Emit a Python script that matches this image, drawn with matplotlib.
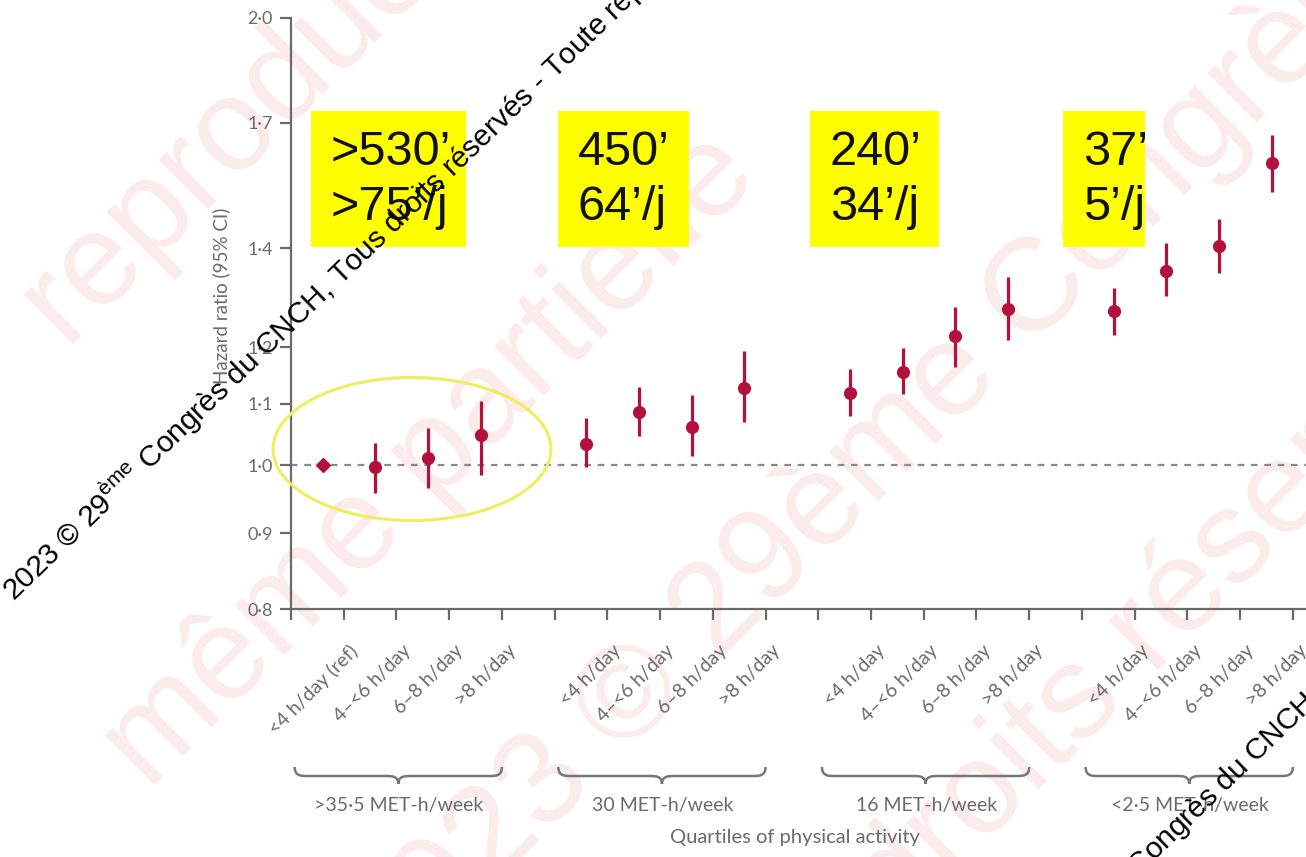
import numpy as np
import matplotlib
matplotlib.use("Agg")
import matplotlib.pyplot as plt
from matplotlib.path import Path
from matplotlib.patches import PathPatch, Rectangle, Ellipse
from matplotlib.ticker import FixedLocator, NullLocator
import matplotlib.transforms as mtransforms

# ---------------- data ----------------
groups = [">35·5 MET-h/week", "30 MET-h/week", "16 MET-h/week", "<2·5 MET-h/week"]
sitting_labels = [
    ["<4 h/day (ref)", "4–<6 h/day", "6–8 h/day", ">8 h/day"],
    ["<4 h/day", "4–<6 h/day", "6–8 h/day", ">8 h/day"],
    ["<4 h/day", "4–<6 h/day", "6–8 h/day", ">8 h/day"],
    ["<4 h/day", "4–<6 h/day", "6–8 h/day", ">8 h/day"],
]
hr = [
    [1.000, 0.997, 1.011, 1.048],
    [1.033, 1.086, 1.061, 1.127],
    [1.119, 1.155, 1.221, 1.274],
    [1.270, 1.351, 1.404, 1.598],
]
ci_low = [
    [1.000, 0.958, 0.965, 0.985],
    [0.997, 1.046, 1.014, 1.069],
    [1.079, 1.116, 1.165, 1.214],
    [1.223, 1.300, 1.347, 1.526],
]
ci_high = [
    [1.000, 1.035, 1.059, 1.105],
    [1.076, 1.129, 1.115, 1.194],
    [1.161, 1.199, 1.278, 1.339],
    [1.316, 1.411, 1.464, 1.668],
]
ytick_values = [0.8, 0.9, 1.0, 1.1, 1.2, 1.4, 1.7, 2.0]
ytick_labels = ["0·8", "0·9", "1·0", "1·1", "1·2", "1·4", "1·7", "2·0"]
box_texts = [(">530’", ">75’/j"), ("450’", "64’/j"), ("240’", "34’/j"), ("37’", "5’/j")]
ylabel = "Hazard ratio (95% CI)"
xlabel = "Quartiles of physical activity"
watermark = "2023 © 29$^{\\mathregular{ème}}$ Congrès du CNCH, Tous droits réservés - Toute reproduction même partielle interdite"

# ---------------- style ----------------
RED = "#b3103d"
GREY = "#6a6a6a"
LFONT = ["Lato", "DejaVu Sans"]
BFONT = ["Liberation Sans", "DejaVu Sans"]

W, H = 1306, 857
fig = plt.figure(figsize=(W / 100, H / 100), dpi=100)
fig.patch.set_facecolor("white")

# faint pink background watermark
pink = "#fbebeb"
for txt, (px, py) in [("reproduction", (300, 60)),
                      ("même partielle", (430, 460)),
                      ("2023 © 29ème Congrès", (860, 470)),
                      ("droits réservés", (1180, 600))]:
    fig.text(px / W, 1 - py / H, txt, fontsize=95, color=pink, rotation=45,
             ha="center", va="center", rotation_mode="anchor",
             family=["Liberation Sans", "DejaVu Sans"], zorder=-5)

ax = fig.add_axes([291 / W, 1 - 609 / H, (W - 291) / W, (609 - 18) / H])
ax.patch.set_alpha(0)
ax.set_yscale("log")
ax.set_ylim(0.8, 2.0)
ax.set_xlim(-0.6, 18.65)

ax.yaxis.set_major_locator(FixedLocator(ytick_values))
ax.yaxis.set_minor_locator(NullLocator())
ax.set_yticklabels(ytick_labels, family=LFONT, fontsize=13, color=GREY)
ax.set_xticks(np.arange(20) - 0.6)
ax.set_xticklabels([])
ax.xaxis.set_minor_locator(NullLocator())
for s in ["top", "right"]:
    ax.spines[s].set_visible(False)
for s in ["left", "bottom"]:
    ax.spines[s].set_color(GREY)
    ax.spines[s].set_linewidth(1.6)
ax.tick_params(axis="both", direction="out", length=8, width=1.6, color=GREY, pad=5)

ax.set_ylabel(ylabel, family=LFONT, fontsize=13.5, color=GREY)
ax.yaxis.set_label_coords(-0.06, 0.53)

# reference line
ax.axhline(1.0, color="#8a8a8a", lw=1.6, ls=(0, (3, 3)), zorder=1)

for g in range(4):
    xs = [g * 5 + i for i in range(4)]
    if g == 0:
        ax.vlines(xs[1:], ci_low[g][1:], ci_high[g][1:], color=RED, lw=2.3, zorder=3)
        ax.plot(xs[:1], hr[g][:1], "D", color=RED, ms=7.5, zorder=4)
        ax.plot(xs[1:], hr[g][1:], "o", color=RED, ms=8.5, zorder=4)
    else:
        ax.vlines(xs, ci_low[g], ci_high[g], color=RED, lw=2.3, zorder=3)
        ax.plot(xs, hr[g], "o", color=RED, ms=8.5, zorder=4)

# x category labels (rotated)
trans_lbl = mtransforms.blended_transform_factory(ax.transData, ax.transAxes)
for g in range(4):
    for i in range(4):
        ax.text(g * 5 + i + 0.5, -0.055, sitting_labels[g][i], transform=trans_lbl,
                rotation=45, ha="right", va="top", rotation_mode="anchor",
                family=LFONT, fontsize=14, color=GREY)

# braces
def brace(x0, x1, y_top, y_mid, y_tip):
    xc = (x0 + x1) / 2
    r = 0.12
    verts = [(x0, y_top), (x0, y_mid), (x0 + r, y_mid), (x0 + 2 * r, y_mid),
             (xc - 2 * r, y_mid), (xc - r, y_mid), (xc, y_mid), (xc, y_tip),
             (xc, y_mid), (xc + r, y_mid), (xc + 2 * r, y_mid),
             (x1 - 2 * r, y_mid), (x1 - r, y_mid), (x1, y_mid), (x1, y_top)]
    codes = [Path.MOVETO, Path.CURVE4, Path.CURVE4, Path.CURVE4,
             Path.LINETO, Path.CURVE4, Path.CURVE4, Path.CURVE4,
             Path.CURVE4, Path.CURVE4, Path.CURVE4,
             Path.LINETO, Path.CURVE4, Path.CURVE4, Path.CURVE4]
    return Path(verts, codes)

yb_top = (609 - 767) / 591
yb_mid = (609 - 776) / 591
yb_tip = (609 - 784) / 591
for g in range(4):
    p = brace(g * 5 - 0.53, g * 5 + 3.4, yb_top, yb_mid, yb_tip)
    ax.add_patch(PathPatch(p, transform=trans_lbl, fill=False, edgecolor="#777777",
                           lw=1.8, clip_on=False))
    ax.text(g * 5 + 1.45, (609 - 805) / 591, groups[g], transform=trans_lbl,
            ha="center", va="center", family=LFONT, fontsize=14, color=GREY)

ax.text(8.95, (609 - 838) / 591, xlabel, transform=trans_lbl, ha="center", va="center",
        family=LFONT, fontsize=14.5, color=GREY)

# yellow boxes (annotation overlay)
box_px = [(311, 466), (558, 689), (810, 939), (1063, 1145)]
for (bx0, bx1), (l1, l2) in zip(box_px, box_texts):
    fig.patches.append(Rectangle((bx0 / W, 1 - 247 / H), (bx1 - bx0) / W, 136 / H,
                                 transform=fig.transFigure, facecolor="#ffff00",
                                 edgecolor="none", zorder=5))
    fig.text((bx0 + 20) / W, 1 - 153 / H, l1, fontsize=35, family=BFONT, color="#111111",
             ha="left", va="center", zorder=6)
    fig.text((bx0 + 20) / W, 1 - 208 / H, l2, fontsize=35, family=BFONT, color="#111111",
             ha="left", va="center", zorder=6)

# yellow ellipse
ax.add_patch(Ellipse((412 / W, 1 - 449 / H), 278 / W, 143 / H, transform=fig.transFigure,
                     fill=False, edgecolor="#eeee60", lw=2.2, clip_on=False, zorder=6))

# black rotated watermark
for (sx, sy) in [(14, 602), (1003, 1008)]:
    fig.text(sx / W, 1 - sy / H, watermark, fontsize=21.5, rotation=44,
             ha="left", va="baseline", rotation_mode="anchor", color="black",
             family=["Liberation Sans", "DejaVu Sans"], zorder=10)

fig.savefig("out.png", dpi=100, facecolor="white")
